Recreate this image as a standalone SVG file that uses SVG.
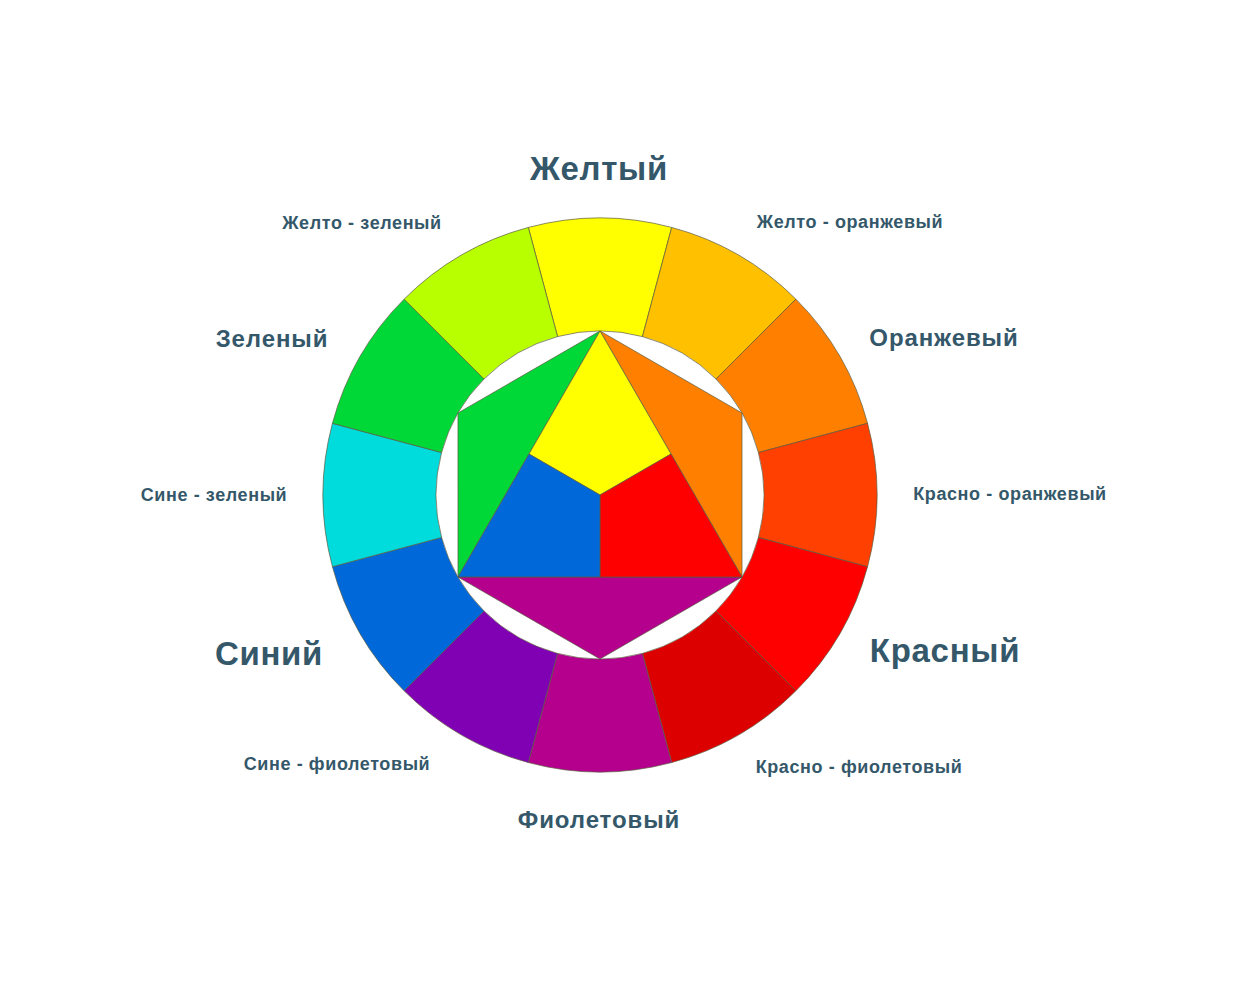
<svg xmlns="http://www.w3.org/2000/svg" width="1239" height="982" viewBox="0 0 1239 982">
<style>
.seg{stroke:#5a5a40;stroke-width:0.7;stroke-linejoin:round}
.tri{stroke:#5a5a40;stroke-width:0.7;stroke-linejoin:round}
.lbl{font-family:"Liberation Sans",Arial,sans-serif;font-weight:bold;fill:#34586a}
.s{font-size:18px;letter-spacing:0.6px}
.m{font-size:24px;letter-spacing:0.9px}
.b{font-size:33px;letter-spacing:0.7px}
</style>
<rect width="1239" height="982" fill="#ffffff"/>
<g id="ring">
<path id="seg-yellow" class="seg" fill="#FFFF00" d="M528.31,227.44 A277,277 0 0 1 671.69,227.44 L642.45,336.59 A164,164 0 0 0 557.55,336.59 Z"/>
<path id="seg-yellow-orange" class="seg" fill="#FFC000" d="M671.69,227.44 A277,277 0 0 1 795.87,299.13 L715.97,379.03 A164,164 0 0 0 642.45,336.59 Z"/>
<path id="seg-orange" class="seg" fill="#FF8000" d="M795.87,299.13 A277,277 0 0 1 867.56,423.31 L758.41,452.55 A164,164 0 0 0 715.97,379.03 Z"/>
<path id="seg-red-orange" class="seg" fill="#FF4000" d="M867.56,423.31 A277,277 0 0 1 867.56,566.69 L758.41,537.45 A164,164 0 0 0 758.41,452.55 Z"/>
<path id="seg-red" class="seg" fill="#FF0000" d="M867.56,566.69 A277,277 0 0 1 795.87,690.87 L715.97,610.97 A164,164 0 0 0 758.41,537.45 Z"/>
<path id="seg-red-violet" class="seg" fill="#DD0000" d="M795.87,690.87 A277,277 0 0 1 671.69,762.56 L642.45,653.41 A164,164 0 0 0 715.97,610.97 Z"/>
<path id="seg-violet" class="seg" fill="#B4008C" d="M671.69,762.56 A277,277 0 0 1 528.31,762.56 L557.55,653.41 A164,164 0 0 0 642.45,653.41 Z"/>
<path id="seg-blue-violet" class="seg" fill="#8000B4" d="M528.31,762.56 A277,277 0 0 1 404.13,690.87 L484.03,610.97 A164,164 0 0 0 557.55,653.41 Z"/>
<path id="seg-blue" class="seg" fill="#0068D8" d="M404.13,690.87 A277,277 0 0 1 332.44,566.69 L441.59,537.45 A164,164 0 0 0 484.03,610.97 Z"/>
<path id="seg-blue-green" class="seg" fill="#00DCDC" d="M332.44,566.69 A277,277 0 0 1 332.44,423.31 L441.59,452.55 A164,164 0 0 0 441.59,537.45 Z"/>
<path id="seg-green" class="seg" fill="#00D838" d="M332.44,423.31 A277,277 0 0 1 404.13,299.13 L484.03,379.03 A164,164 0 0 0 441.59,452.55 Z"/>
<path id="seg-yellow-green" class="seg" fill="#B8FF00" d="M404.13,299.13 A277,277 0 0 1 528.31,227.44 L557.55,336.59 A164,164 0 0 0 484.03,379.03 Z"/>
</g>
<g id="hexagon">
<polygon id="tri-green" class="tri" fill="#00D838" points="600,331 457.97,413 457.97,577"/>
<polygon id="tri-orange" class="tri" fill="#FF8000" points="600,331 742.03,413 742.03,577"/>
<polygon id="tri-violet" class="tri" fill="#B4008C" points="457.97,577 600,659 742.03,577"/>
<polygon id="in-yellow" class="tri" fill="#FFFF00" points="600,331 671.01,454 600,495 528.99,454"/>
<polygon id="in-red" class="tri" fill="#FF0000" points="671.01,454 742.03,577 600,577 600,495"/>
<polygon id="in-blue" class="tri" fill="#0068D8" points="528.99,454 600,495 600,577 457.97,577"/>
</g>
<g id="labels">
<text id="t-yellow" class="lbl b" x="599" y="180" text-anchor="middle">Желтый</text>
<text id="t-yellow-green" class="lbl s" x="362" y="229" text-anchor="middle">Желто - зеленый</text>
<text id="t-yellow-orange" class="lbl s" x="850" y="228" text-anchor="middle">Желто - оранжевый</text>
<text id="t-green" class="lbl m" x="272" y="347" text-anchor="middle">Зеленый</text>
<text id="t-orange" class="lbl m" x="944" y="346" text-anchor="middle">Оранжевый</text>
<text id="t-blue-green" class="lbl s" x="214" y="501" text-anchor="middle">Сине - зеленый</text>
<text id="t-red-orange" class="lbl s" x="1010" y="500" text-anchor="middle">Красно - оранжевый</text>
<text id="t-blue" class="lbl b" x="269" y="665" text-anchor="middle">Синий</text>
<text id="t-red" class="lbl b" x="945" y="662" text-anchor="middle">Красный</text>
<text id="t-blue-violet" class="lbl s" x="337" y="770" text-anchor="middle">Сине - фиолетовый</text>
<text id="t-red-violet" class="lbl s" x="859" y="773" text-anchor="middle">Красно - фиолетовый</text>
<text id="t-violet" class="lbl m" x="599" y="828" text-anchor="middle">Фиолетовый</text>
</g>
</svg>
